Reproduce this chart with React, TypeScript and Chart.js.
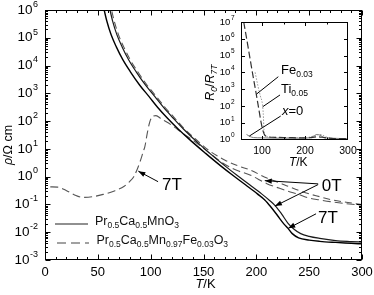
import React, { useEffect, useRef } from 'react';
import { Chart, registerables } from 'chart.js';

Chart.register(...registerables);

const FONT = '"Liberation Sans", Arial, Helvetica, sans-serif';

// ---------- main panel: rho (Ohm cm) vs T (K) ----------
const T_PCMO_0T = [59.5, 61.5, 64, 68, 73, 79, 86, 95, 104, 112, 121, 131, 143, 156, 170, 182, 194, 205, 212, 218, 224, 230, 236, 242, 250, 260, 275, 290, 300];
const RHO_PCMO_0T = [2.2e6, 1.0e6, 4.0e5, 1.3e5, 4.7e4, 1.66e4, 6.2e3, 2.0e3, 760, 316, 132, 52, 19, 6.9, 2.5, 1.1, 0.5, 0.24, 0.145, 0.089, 0.045, 0.021, 0.0126, 0.0089, 0.0071, 0.006, 0.005, 0.0046, 0.0044];

const T_PCMO_7T = [54, 56, 58.5, 62.5, 67.5, 73.5, 80.5, 89.5, 98.5, 106.5, 115.5, 126, 138.5, 152, 166, 178, 190, 201, 208, 214, 220, 226, 230, 234, 240, 250, 260, 275, 290, 300];
const RHO_PCMO_7T = [2.2e6, 1.0e6, 4.0e5, 1.3e5, 4.7e4, 1.66e4, 6.2e3, 2.0e3, 760, 316, 132, 52, 19, 6.9, 2.5, 1.1, 0.5, 0.24, 0.145, 0.079, 0.04, 0.02, 0.0138, 0.0089, 0.0063, 0.0052, 0.0047, 0.0043, 0.004, 0.0038];

const T_FE_0T = [61, 63, 65.5, 69.5, 74.5, 80.5, 87.5, 96.5, 105.5, 113.5, 122.5, 132, 144, 156, 170, 182, 194, 210, 222, 230, 240, 250, 260, 270, 285, 300];
const RHO_FE_0T = [2.2e6, 1.0e6, 4.0e5, 1.3e5, 4.7e4, 1.66e4, 6.2e3, 2.0e3, 760, 316, 132, 52, 20, 8.3, 4.0, 2.5, 1.74, 0.89, 0.6, 0.45, 0.32, 0.24, 0.19, 0.15, 0.12, 0.1];

const T_FE_7T = [5, 12, 20, 28, 36, 45, 55, 65, 75, 80, 84, 87, 90, 93, 94.5, 96.5, 99, 102, 105, 110, 120, 131, 142, 156, 170, 182, 194, 210, 222, 230, 240, 250, 260, 270, 285, 300];
const RHO_FE_7T = [0.43, 0.42, 0.32, 0.22, 0.18, 0.19, 0.23, 0.30, 0.45, 0.66, 1.0, 1.74, 3.5, 8.0, 12, 32, 89, 150, 158, 120, 71, 35, 18, 6.9, 2.8, 1.66, 1.15, 0.56, 0.38, 0.30, 0.23, 0.17, 0.145, 0.126, 0.107, 0.093];

const X_TICKS_MAIN = [0, 50, 100, 150, 200, 250, 300];
const Y_EXP_MAIN = ['-3', '-2', '-1', '0', '1', '2', '3', '4', '5', '6'];

// ---------- inset: R0/R7T vs T ----------
const T_IN_FE = [57.5, 65, 72, 79, 86, 92, 98, 102, 106, 112, 130, 160, 190, 215, 230, 245, 265, 300];
const R_IN_FE = [1e7, 8e5, 7e4, 6.3e3, 630, 80, 10, 3.5, 1.9, 1.5, 1.35, 1.3, 1.25, 1.3, 1.45, 1.3, 1.15, 1.12];

const T_IN_TI = [84, 90, 96, 101, 103, 104.5, 107, 115, 140, 170, 200, 220, 235, 250, 270, 300];
const R_IN_TI = [1e4, 1.8e3, 400, 126, 32, 4, 1.8, 1.4, 1.32, 1.26, 1.26, 1.6, 2.0, 1.4, 1.12, 1.1];

const T_IN_X0 = [64, 70, 80, 100, 130, 160, 190, 210, 220, 228, 235, 245, 260, 280, 300];
const R_IN_X0 = [2.0, 1.6, 1.3, 1.26, 1.2, 1.2, 1.2, 1.26, 1.6, 2.0, 1.8, 1.3, 1.2, 1.15, 1.12];

const X_TICKS_INSET = [100, 200, 300];
const Y_EXP_INSET = ['0', '1', '2', '3', '4', '5', '6', '7'];

type Seg = { t: string; it?: boolean; sub?: boolean };

const LEGEND_1: Seg[] = [
  { t: 'Pr' }, { t: '0.5', sub: true }, { t: 'Ca' }, { t: '0.5', sub: true }, { t: 'MnO' }, { t: '3', sub: true },
];
const LEGEND_2: Seg[] = [
  { t: 'Pr' }, { t: '0.5', sub: true }, { t: 'Ca' }, { t: '0.5', sub: true }, { t: 'Mn' }, { t: '0.97', sub: true },
  { t: 'Fe' }, { t: '0.03', sub: true }, { t: 'O' }, { t: '3', sub: true },
];

function pts(xs: number[], ys: number[]) {
  return xs.map((x, i) => ({ x, y: ys[i] }));
}

function segFont(s: Seg, size: number, subSize: number) {
  return `${s.it ? 'italic ' : ''}${s.sub ? subSize : size}px ${FONT}`;
}
function richWidth(ctx: CanvasRenderingContext2D, segs: Seg[], size: number, subSize: number) {
  let w = 0;
  for (const s of segs) {
    ctx.font = segFont(s, size, subSize);
    w += ctx.measureText(s.t).width;
  }
  return w;
}
function drawRich(ctx: CanvasRenderingContext2D, segs: Seg[], x: number, y: number, size: number, subSize: number, subDrop: number) {
  let cx = x;
  ctx.textAlign = 'left';
  ctx.textBaseline = 'alphabetic';
  for (const s of segs) {
    ctx.font = segFont(s, size, subSize);
    ctx.fillText(s.t, cx, s.sub ? y + subDrop : y);
    cx += ctx.measureText(s.t).width;
  }
}
function drawPow(ctx: CanvasRenderingContext2D, exp: string, xRight: number, yMid: number, size: number, expSize: number) {
  ctx.textAlign = 'left';
  ctx.textBaseline = 'middle';
  ctx.font = `${size}px ${FONT}`;
  const wm = ctx.measureText('10').width;
  ctx.font = `${expSize}px ${FONT}`;
  const we = ctx.measureText(exp).width;
  const x0 = xRight - wm - we - 0.5;
  ctx.font = `${size}px ${FONT}`;
  ctx.fillText('10', x0, yMid);
  ctx.font = `${expSize}px ${FONT}`;
  ctx.fillText(exp, x0 + wm + 0.5, yMid - size * 0.42);
}
function drawArrow(ctx: CanvasRenderingContext2D, x1: number, y1: number, x2: number, y2: number, head: boolean) {
  ctx.beginPath();
  ctx.moveTo(x1, y1);
  ctx.lineTo(x2, y2);
  ctx.stroke();
  if (head) {
    const ang = Math.atan2(y2 - y1, x2 - x1);
    const L = 7, W = 2.6;
    ctx.beginPath();
    ctx.moveTo(x2, y2);
    ctx.lineTo(x2 - L * Math.cos(ang) + W * Math.sin(ang), y2 - L * Math.sin(ang) - W * Math.cos(ang));
    ctx.lineTo(x2 - L * Math.cos(ang) - W * Math.sin(ang), y2 - L * Math.sin(ang) + W * Math.cos(ang));
    ctx.closePath();
    ctx.fill();
  }
}

// annotations in data coordinates
const MAIN_TEXT = [
  { t: '7T', x: 110.7, y: 0.33 },
  { t: '0T', x: 262, y: 0.305 },
  { t: '7T', x: 258.3, y: 0.0215 },
];
const MAIN_ARROWS = [
  { x1: 107, y1: 0.66, x2: 88.3, y2: 1.58 },
  { x1: 258.5, y1: 0.55, x2: 208, y2: 0.72 },
  { x1: 258.5, y1: 0.52, x2: 217.6, y2: 0.087 },
  { x1: 256.5, y1: 0.046, x2: 230.2, y2: 0.0138 },
];
const INSET_TEXT: { segs: Seg[]; x: number; y: number }[] = [
  { segs: [{ t: 'Fe' }, { t: '0.03', sub: true }], x: 144.2, y: 7.9e3 },
  { segs: [{ t: 'Ti' }, { t: '0.05', sub: true }], x: 144.2, y: 590 },
  { segs: [{ t: 'x', it: true }, { t: '=0' }], x: 146.5, y: 29 },
];
const INSET_LEADERS = [
  { x1: 137.9, y1: 5.5e3, x2: 87, y2: 500 },
  { x1: 141.9, y1: 450, x2: 101.5, y2: 89 },
  { x1: 143.5, y1: 25, x2: 70.5, y2: 1.6 },
];

const mainDecor = {
  id: 'mainDecor',
  afterDraw(chart: any) {
    const { ctx, chartArea: a, scales } = chart;
    const xs = scales.x, ys = scales.y;
    ctx.save();
    ctx.strokeStyle = '#000';
    ctx.fillStyle = '#000';
    ctx.lineWidth = 1;
    ctx.setLineDash([]);
    const L = Math.round(a.left) + 0.5, R = Math.round(a.right) - 0.5;
    const T = Math.round(a.top) + 0.5, B = Math.round(a.bottom) - 0.5;
    ctx.strokeRect(L, T, R - L, B - T);
    ctx.beginPath();
    for (let v = 0; v <= 300; v += 10) {
      const px = Math.round(xs.getPixelForValue(v)) + 0.5;
      const len = v % 50 === 0 ? 5 : 2.5;
      ctx.moveTo(px, B); ctx.lineTo(px, B - len);
      ctx.moveTo(px, T); ctx.lineTo(px, T + len);
    }
    for (let e = -3; e <= 6; e++) {
      for (let m = 1; m <= 9; m++) {
        if (e === 6 && m > 1) break;
        const py = Math.round(ys.getPixelForValue(m * Math.pow(10, e))) + 0.5;
        const len = m === 1 ? 5 : 2.5;
        ctx.moveTo(L, py); ctx.lineTo(L + len, py);
        ctx.moveTo(R, py); ctx.lineTo(R - len, py);
      }
    }
    ctx.stroke();

    // tick labels
    ctx.font = `13px ${FONT}`;
    ctx.textAlign = 'center';
    ctx.textBaseline = 'middle';
    for (const v of X_TICKS_MAIN) {
      ctx.fillText(String(v), xs.getPixelForValue(v), a.bottom + 12.5);
    }
    for (const e of Y_EXP_MAIN) {
      drawPow(ctx, e, a.left - 7, ys.getPixelForValue(Math.pow(10, Number(e))), 13.5, 9);
    }
    // axis titles
    const tk: Seg[] = [{ t: 'T', it: true }, { t: '/K' }];
    const wt = richWidth(ctx, tk, 13, 13);
    drawRich(ctx, tk, (a.left + a.right) / 2 + 2 - wt / 2, a.bottom + 28, 13, 13, 0);
    const yt: Seg[] = [{ t: 'ρ', it: true }, { t: '/Ω cm' }];
    const wy = richWidth(ctx, yt, 12.5, 12.5);
    ctx.save();
    ctx.translate(12, 145);
    ctx.rotate(-Math.PI / 2);
    drawRich(ctx, yt, -wy / 2, 0, 12.5, 12.5, 0);
    ctx.restore();

    // legend
    ctx.strokeStyle = '#222';
    ctx.lineWidth = 1.2;
    ctx.beginPath();
    ctx.moveTo(a.left + 10, a.bottom - 36); ctx.lineTo(a.left + 43, a.bottom - 36);
    ctx.stroke();
    ctx.strokeStyle = '#444';
    ctx.lineWidth = 1.1;
    ctx.setLineDash([9, 5]);
    ctx.beginPath();
    ctx.moveTo(a.left + 12, a.bottom - 17); ctx.lineTo(a.left + 44, a.bottom - 17);
    ctx.stroke();
    ctx.setLineDash([]);
    ctx.fillStyle = '#111';
    drawRich(ctx, LEGEND_1, a.left + 50, a.bottom - 35, 12.5, 8.5, 3);
    drawRich(ctx, LEGEND_2, a.left + 51.5, a.bottom - 16, 12.5, 8.5, 3);

    // annotations
    ctx.fillStyle = '#000';
    ctx.strokeStyle = '#000';
    ctx.lineWidth = 1;
    ctx.font = `17px ${FONT}`;
    ctx.textAlign = 'left';
    ctx.textBaseline = 'alphabetic';
    for (const n of MAIN_TEXT) {
      ctx.fillText(n.t, xs.getPixelForValue(n.x), ys.getPixelForValue(n.y));
    }
    for (const ar of MAIN_ARROWS) {
      drawArrow(ctx, xs.getPixelForValue(ar.x1), ys.getPixelForValue(ar.y1), xs.getPixelForValue(ar.x2), ys.getPixelForValue(ar.y2), true);
    }
    ctx.restore();
  },
};

const insetDecor = {
  id: 'insetDecor',
  beforeDatasetsDraw(chart: any) {
    const { ctx, chartArea: a } = chart;
    ctx.save();
    ctx.fillStyle = '#fff';
    ctx.fillRect(a.left, a.top, a.right - a.left, a.bottom - a.top);
    ctx.restore();
  },
  afterDraw(chart: any) {
    const { ctx, chartArea: a, scales } = chart;
    const xs = scales.x, ys = scales.y;
    ctx.save();
    ctx.strokeStyle = '#000';
    ctx.fillStyle = '#000';
    ctx.lineWidth = 1;
    const L = Math.round(a.left) + 0.5, R = Math.round(a.right) - 0.5;
    const T = Math.round(a.top) + 0.5, B = Math.round(a.bottom) - 0.5;
    ctx.strokeRect(L, T, R - L, B - T);
    ctx.beginPath();
    for (let v = 100; v < 300; v += 50) {
      const px = Math.round(xs.getPixelForValue(v)) + 0.5;
      const len = v % 100 === 0 ? 3.5 : 2;
      ctx.moveTo(px, B); ctx.lineTo(px, B - len);
      ctx.moveTo(px, T); ctx.lineTo(px, T + len);
    }
    for (let e = 1; e < 7; e++) {
      const py = Math.round(ys.getPixelForValue(Math.pow(10, e))) + 0.5;
      ctx.moveTo(L, py); ctx.lineTo(L + 3.5, py);
      ctx.moveTo(R, py); ctx.lineTo(R - 3.5, py);
    }
    ctx.stroke();

    ctx.font = `10.5px ${FONT}`;
    ctx.textAlign = 'center';
    ctx.textBaseline = 'middle';
    for (const v of X_TICKS_INSET) {
      ctx.fillText(String(v), xs.getPixelForValue(v), a.bottom + 12);
    }
    for (const e of Y_EXP_INSET) {
      drawPow(ctx, e, a.left - 6, ys.getPixelForValue(Math.pow(10, Number(e))), 9.5, 6.5);
    }
    const tk: Seg[] = [{ t: 'T', it: true }, { t: '/K' }];
    const wt = richWidth(ctx, tk, 12, 12);
    drawRich(ctx, tk, (a.left + a.right) / 2 + 4 - wt / 2, a.bottom + 26.5, 12, 12, 0);
    const yt: Seg[] = [{ t: 'R', it: true }, { t: '0', it: true, sub: true }, { t: '/' }, { t: 'R', it: true }, { t: '7T', it: true, sub: true }];
    const wy = richWidth(ctx, yt, 12.5, 8.5);
    ctx.save();
    ctx.translate(a.left - 27, (a.top + a.bottom) / 2 + 2);
    ctx.rotate(-Math.PI / 2);
    drawRich(ctx, yt, -wy / 2, 0, 12.5, 8.5, 3);
    ctx.restore();

    for (const n of INSET_TEXT) {
      drawRich(ctx, n.segs, xs.getPixelForValue(n.x), ys.getPixelForValue(n.y), 13, 8.5, 3);
    }
    ctx.lineWidth = 1;
    for (const ld of INSET_LEADERS) {
      drawArrow(ctx, xs.getPixelForValue(ld.x1), ys.getPixelForValue(ld.y1), xs.getPixelForValue(ld.x2), ys.getPixelForValue(ld.y2), false);
    }
    ctx.restore();
  },
};

function mainConfig(): any {
  return {
    type: 'line',
    data: {
      datasets: [
        { label: 'Pr0.5Ca0.5MnO3 0T', data: pts(T_PCMO_0T, RHO_PCMO_0T), borderColor: '#1a1a1a', borderWidth: 1.2 },
        { label: 'Pr0.5Ca0.5MnO3 7T', data: pts(T_PCMO_7T, RHO_PCMO_7T), borderColor: '#000', borderWidth: 1.4 },
        { label: 'Pr0.5Ca0.5Mn0.97Fe0.03O3 0T', data: pts(T_FE_0T, RHO_FE_0T), borderColor: '#555', borderWidth: 1.1, borderDash: [7, 4] },
        { label: 'Pr0.5Ca0.5Mn0.97Fe0.03O3 7T', data: pts(T_FE_7T, RHO_FE_7T), borderColor: '#555', borderWidth: 1.1, borderDash: [8, 4] },
      ],
    },
    options: {
      animation: false,
      responsive: false,
      devicePixelRatio: 1,
      layout: { padding: { left: 45, right: 12, top: 10, bottom: 35 } },
      plugins: { legend: { display: false }, tooltip: { enabled: false } },
      elements: { point: { radius: 0 }, line: { cubicInterpolationMode: 'monotone', fill: false } },
      scales: {
        x: { type: 'linear', min: 0, max: 300, display: false },
        y: { type: 'logarithmic', min: 1e-3, max: 1e6, display: false },
      },
    },
    plugins: [mainDecor],
  };
}

function insetConfig(): any {
  return {
    type: 'line',
    data: {
      datasets: [
        { label: 'Fe0.03', data: pts(T_IN_FE, R_IN_FE), borderColor: '#333', borderWidth: 1.2, borderDash: [7, 3] },
        { label: 'Ti0.05', data: pts(T_IN_TI, R_IN_TI), borderColor: '#999', borderWidth: 1, borderDash: [1.5, 1.5] },
        { label: 'x=0', data: pts(T_IN_X0, R_IN_X0), borderColor: '#777', borderWidth: 1 },
      ],
    },
    options: {
      animation: false,
      responsive: false,
      devicePixelRatio: 1,
      layout: { padding: { left: 45.5, right: 22, top: 10, bottom: 32.5 } },
      plugins: { legend: { display: false }, tooltip: { enabled: false } },
      elements: { point: { radius: 0 }, line: { cubicInterpolationMode: 'monotone', fill: false } },
      scales: {
        x: { type: 'linear', min: 50, max: 300, display: false },
        y: { type: 'logarithmic', min: 1, max: 1e7, display: false },
      },
    },
    plugins: [insetDecor],
  };
}

export default function App() {
  const mainRef = useRef<HTMLCanvasElement>(null);
  const insetRef = useRef<HTMLCanvasElement>(null);
  useEffect(() => {
    const main = new Chart(mainRef.current as HTMLCanvasElement, mainConfig());
    const inset = new Chart(insetRef.current as HTMLCanvasElement, insetConfig());
    return () => {
      main.destroy();
      inset.destroy();
    };
  }, []);
  return (
    <div style={{ position: 'fixed', left: 0, top: 0, width: 374, height: 295, background: '#fff' }}>
      <canvas ref={mainRef} width={374} height={295} style={{ position: 'absolute', left: 0, top: 0, width: 374, height: 295 }} />
      <canvas ref={insetRef} width={175} height={160} style={{ position: 'absolute', left: 195, top: 12, width: 175, height: 160 }} />
    </div>
  );
}
